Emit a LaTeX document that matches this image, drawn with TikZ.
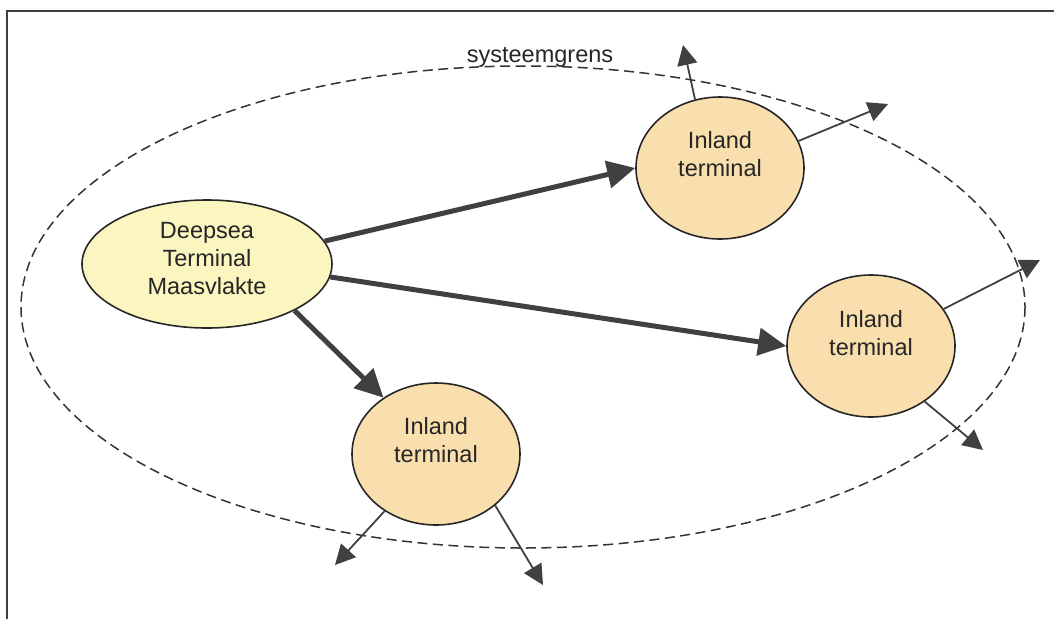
\documentclass[tikz,border=0pt]{standalone}
\usepackage{fontspec}
\setmainfont{Liberation Sans}
\usetikzlibrary{shapes.geometric,arrows.meta}

\definecolor{linegray}{RGB}{62,64,66}
\definecolor{deepfill}{RGB}{251,246,192}
\definecolor{inlandfill}{RGB}{250,223,174}

\tikzset{
  frameline/.style={draw=linegray, line width=2pt},
  boundary/.style={draw=black!80, line width=1.5pt, dash pattern=on 10pt off 5.5pt},
  deepsea/.style={ellipse, draw=black!85, line width=1.6pt, fill=deepfill,
    minimum width=250pt, minimum height=128pt, inner sep=0pt},
  inland/.style={ellipse, draw=black!85, line width=1.6pt, fill=inlandfill,
    minimum width=168pt, minimum height=142pt, inner sep=0pt},
  caption/.style={align=center, inner sep=0pt,
    font=\fontsize{23.5}{28}\selectfont, text=black!85},
  mainflow/.style={draw=linegray, line width=5pt,
    -{Triangle[length=28pt,width=27pt]}},
  outflow/.style={draw=linegray, line width=1.8pt,
    -{Triangle[length=20pt,width=20pt]}},
}

\begin{document}
\begin{tikzpicture}[x=1pt,y=-1pt]
  \useasboundingbox (0,0) rectangle (1054,619);

  % open frame: top and left edges
  \draw[frameline] (7,619) -- (7,11) -- (1054,11);

  % system boundary
  \draw[boundary] (523,307) ellipse [x radius=502, y radius=241];
  \node[caption] (grens) at (540,57) {systeemgrens};

  % terminals
  \node[deepsea] (deep) at (207,264) {};
  \node[caption] (deeptxt) at (207,259) {Deepsea\\Terminal\\Maasvlakte};

  \node[inland] (inA) at (720,168) {};
  \node[caption] (inAtxt) at (720,154) {Inland\\terminal};

  \node[inland] (inB) at (871,346) {};
  \node[caption] (inBtxt) at (871,333) {Inland\\terminal};

  \node[inland] (inC) at (436,454) {};
  \node[caption] (inCtxt) at (436,440) {Inland\\terminal};

  % main flows from the deepsea terminal
  \draw[mainflow] (deep.11) -- (inA.180);
  \draw[mainflow] (deep.-6) -- (inB.180);
  \draw[mainflow] (deep.-28) -- (inC.133);

  % onward flows out of the inland terminals
  \coordinate (a1) at (683,45);
  \coordinate (a2) at (888,104);
  \coordinate (b1) at (1040,260);
  \coordinate (b2) at (983,450);
  \coordinate (c1) at (335,565);
  \coordinate (c2) at (543,585);

  \draw[outflow] (inA.110) -- (a1);
  \draw[outflow] (inA.19) -- (a2);
  \draw[outflow] (inB.27) -- (b1);
  \draw[outflow] (inB.-46) -- (b2);
  \draw[outflow] (inC.-132) -- (c1);
  \draw[outflow] (inC.-41) -- (c2);
\end{tikzpicture}
\end{document}
